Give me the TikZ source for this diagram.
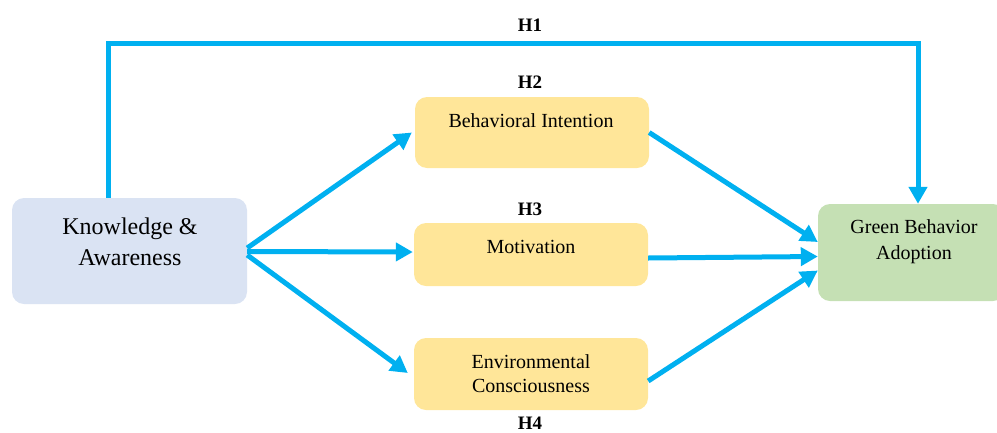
\documentclass[tikz,border=0pt]{standalone}
\usepackage{fontspec}
\setmainfont{Liberation Serif}
\usetikzlibrary{arrows.meta}
\definecolor{kblue}{HTML}{DAE3F3}
\definecolor{myel}{HTML}{FFE699}
\definecolor{mgreen}{HTML}{C5E0B4}
\definecolor{arrc}{HTML}{00B0F0}
\tikzset{
  boxk/.style={rectangle, rounded corners=12pt, fill=kblue, draw=none, inner sep=0pt},
  boxy/.style={rectangle, rounded corners=12pt, fill=myel, draw=none, inner sep=0pt, minimum width=234pt},
  boxg/.style={rectangle, rounded corners=12pt, fill=mgreen, draw=none, inner sep=0pt},
  txt/.style={align=center, font=\fontsize{20}{26}\selectfont, inner sep=0pt},
  hlab/.style={font=\fontsize{19}{22}\selectfont\bfseries, inner sep=0pt},
  arr/.style={draw=arrc, line width=5pt, -{Triangle[length=17pt,width=18pt]}},
}
\begin{document}
\begin{tikzpicture}[x=1pt,y=-1pt]
\useasboundingbox (0,0) rectangle (997,432);
% boxes
\node[boxk, minimum width=235pt, minimum height=106pt] (ka) at (129.5,251) {};
\node[txt, font=\fontsize{24}{31}\selectfont] (kat) at (130,242) {Knowledge \&\\Awareness};
\node[boxy, minimum height=71pt] (bi) at (532,132.5) {};
\node[txt] (bit) at (531,121) {Behavioral Intention};
\node[boxy, minimum height=63pt] (mo) at (531,254.5) {};
\node[txt] (mot) at (531,247) {Motivation};
\node[boxy, minimum height=72pt] (ec) at (531,374) {};
\node[txt, font=\fontsize{20}{24}\selectfont] (ect) at (531,374) {Environmental\\Consciousness};
\node[boxg, minimum width=187pt, minimum height=97pt] (gb) at (911.5,252.5) {};
\node[txt] (gbt) at (914,242) {Green Behavior\\Adoption};
% labels
\node[hlab] (h1) at (530,25) {H1};
\node[hlab] (h2) at (530,82) {H2};
\node[hlab] (h3) at (530,209) {H3};
\node[hlab] (h4) at (530,423) {H4};
% H1 path
\coordinate (c1) at (108,43);
\coordinate (c2) at (918,43);
\draw[arr] (c1 |- ka.north) -- (c1) -- (c2) -- (c2 |- gb.north);
% left arrows
\draw[arr] ([yshift=3pt]ka.east) -- ([xshift=-3pt]bi.west);
\draw[arr] ([yshift=-0.5pt]ka.east) -- ([xshift=-1pt,yshift=2.5pt]mo.west);
\draw[arr] ([yshift=-4pt]ka.east) -- ([xshift=-6pt,yshift=1pt]ec.west);
% right arrows
\draw[arr] (bi.east) -- ([yshift=10.5pt]gb.west);
\draw[arr] ([yshift=-3.5pt]mo.east) -- ([yshift=-4pt]gb.west);
\draw[arr] ([yshift=-7pt]ec.east) -- ([yshift=-18pt]gb.west);
\end{tikzpicture}
\end{document}
